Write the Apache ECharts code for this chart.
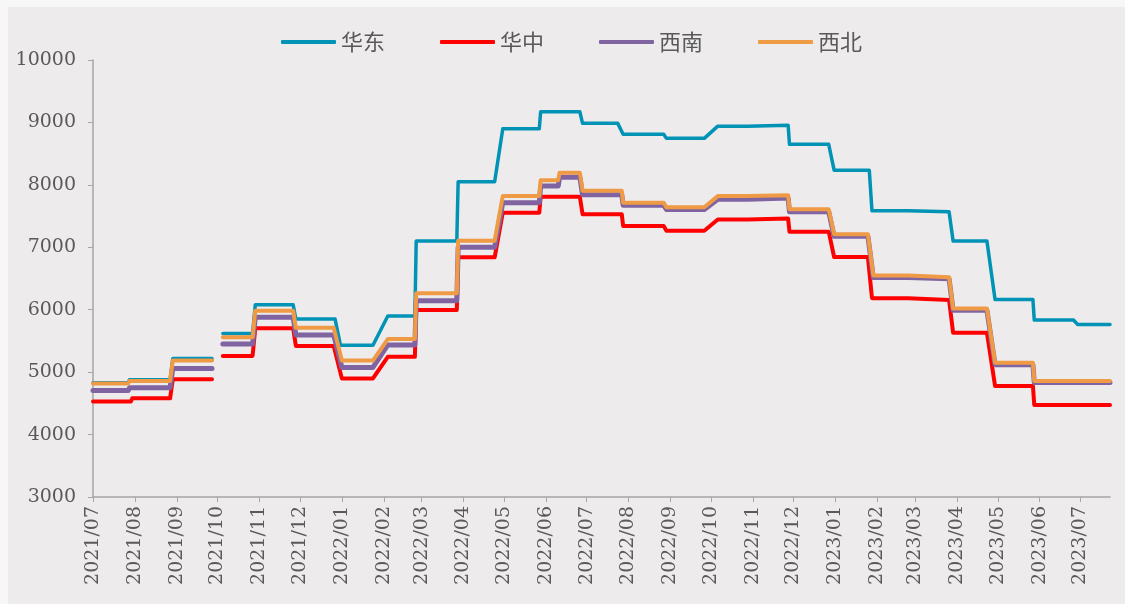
<!DOCTYPE html>
<html>
<head>
<meta charset="utf-8">
<script src="https://cdn.jsdelivr.net/npm/echarts@6/dist/echarts.min.js"></script>
<style>
  html, body { margin: 0; padding: 0; background: #f7f7f7; }
  #main { position: absolute; left: 8px; top: 7px; width: 1117px; height: 597px; background: #edebec; }
</style>
</head>
<body>
<div id="main"></div>
<script>
// 图例名称
var seriesNames = ['华东', '华中', '西南', '西北'];
var seriesColors = ['#0093b6', '#ff0000', '#8064a2', '#ef9a45'];
var seriesWidths = [3.5, 4, 5, 4];

// 价格走势（拐点，'-' 表示断开）
var eastData = [
  ['2021-07-01', 4830], ['2021-07-27', 4830], ['2021-07-28', 4880], ['2021-08-27', 4880],
  ['2021-08-29', 5220], ['2021-09-27', 5220], ['2021-10-01', '-'],
  ['2021-10-05', 5620], ['2021-10-27', 5620], ['2021-10-29', 6080], ['2021-11-26', 6080],
  ['2021-11-28', 5850], ['2021-12-27', 5850], ['2021-12-31', 5430], ['2022-01-24', 5430],
  ['2022-02-04', 5900], ['2022-02-24', 5900], ['2022-02-25', 7100], ['2022-03-27', 7100],
  ['2022-03-28', 8050], ['2022-04-24', 8050], ['2022-04-30', 8900], ['2022-05-27', 8900],
  ['2022-05-28', 9170], ['2022-06-26', 9170], ['2022-06-28', 8985], ['2022-07-24', 8985],
  ['2022-07-28', 8810], ['2022-08-27', 8810], ['2022-08-29', 8745], ['2022-09-26', 8745],
  ['2022-10-06', 8940], ['2022-10-28', 8940], ['2022-10-29', 8955], ['2022-11-27', 8955],
  ['2022-11-28', 8650], ['2022-12-27', 8650], ['2022-12-31', 8235], ['2023-01-26', 8235],
  ['2023-01-28', 7585], ['2023-02-24', 7585], ['2023-02-25', 7570], ['2023-03-26', 7570],
  ['2023-03-29', 7100], ['2023-04-23', 7100], ['2023-04-29', 6165], ['2023-05-27', 6165],
  ['2023-05-28', 5835], ['2023-06-26', 5835], ['2023-06-29', 5765], ['2023-07-23', 5765]
];
var centralData = [
  ['2021-07-01', 4530], ['2021-07-29', 4530], ['2021-07-30', 4580], ['2021-08-27', 4580],
  ['2021-08-29', 4885], ['2021-09-27', 4885], ['2021-10-01', '-'],
  ['2021-10-05', 5260], ['2021-10-27', 5260], ['2021-10-29', 5705], ['2021-11-26', 5705],
  ['2021-11-28', 5420], ['2021-12-26', 5420], ['2022-01-01', 4900], ['2022-01-24', 4900],
  ['2022-02-04', 5245], ['2022-02-24', 5245], ['2022-02-25', 5995], ['2022-03-27', 5995],
  ['2022-03-28', 6840], ['2022-04-24', 6840], ['2022-04-30', 7555], ['2022-05-27', 7555],
  ['2022-05-28', 7810], ['2022-06-26', 7810], ['2022-06-28', 7530], ['2022-07-27', 7530],
  ['2022-07-28', 7340], ['2022-08-27', 7340], ['2022-08-29', 7265], ['2022-09-26', 7265],
  ['2022-10-06', 7445], ['2022-10-28', 7445], ['2022-10-29', 7460], ['2022-11-27', 7460],
  ['2022-11-28', 7250], ['2022-12-27', 7250], ['2022-12-31', 6845], ['2023-01-25', 6845],
  ['2023-01-28', 6185], ['2023-02-24', 6185], ['2023-02-25', 6155], ['2023-03-26', 6155],
  ['2023-03-29', 5630], ['2023-04-23', 5630], ['2023-04-29', 4780], ['2023-05-27', 4780],
  ['2023-05-28', 4475], ['2023-07-23', 4475]
];
var southwestData = [
  ['2021-07-01', 4705], ['2021-07-27', 4705], ['2021-07-28', 4750], ['2021-08-27', 4750],
  ['2021-08-29', 5060], ['2021-09-27', 5060], ['2021-10-01', '-'],
  ['2021-10-05', 5450], ['2021-10-27', 5450], ['2021-10-29', 5880], ['2021-11-26', 5880],
  ['2021-11-28', 5595], ['2021-12-26', 5595], ['2022-01-01', 5075], ['2022-01-24', 5075],
  ['2022-02-04', 5435], ['2022-02-24', 5435], ['2022-02-25', 6145], ['2022-03-27', 6145],
  ['2022-03-28', 7000], ['2022-04-24', 7000], ['2022-04-30', 7715], ['2022-05-27', 7715],
  ['2022-05-28', 7980], ['2022-06-10', 7980], ['2022-06-11', 8120], ['2022-06-26', 8120],
  ['2022-06-28', 7840], ['2022-07-27', 7840], ['2022-07-28', 7675], ['2022-08-27', 7675],
  ['2022-08-29', 7605], ['2022-09-26', 7605], ['2022-10-06', 7770], ['2022-10-28', 7770],
  ['2022-10-29', 7790], ['2022-11-27', 7790], ['2022-11-28', 7570], ['2022-12-27', 7570],
  ['2022-12-31', 7175], ['2023-01-25', 7175], ['2023-01-29', 6515], ['2023-02-24', 6515],
  ['2023-02-25', 6495], ['2023-03-26', 6495], ['2023-03-29', 5990], ['2023-04-23', 5990],
  ['2023-04-29', 5120], ['2023-05-27', 5120], ['2023-05-28', 4835], ['2023-07-23', 4835]
];
var northwestData = [
  ['2021-07-01', 4820], ['2021-07-27', 4820], ['2021-07-28', 4860], ['2021-08-27', 4860],
  ['2021-08-29', 5185], ['2021-09-27', 5185], ['2021-10-01', '-'],
  ['2021-10-05', 5560], ['2021-10-27', 5560], ['2021-10-29', 5985], ['2021-11-26', 5985],
  ['2021-11-28', 5710], ['2021-12-26', 5710], ['2022-01-01', 5185], ['2022-01-24', 5185],
  ['2022-02-04', 5530], ['2022-02-24', 5530], ['2022-02-25', 6265], ['2022-03-27', 6265],
  ['2022-03-28', 7105], ['2022-04-24', 7105], ['2022-04-30', 7820], ['2022-05-27', 7820],
  ['2022-05-28', 8075], ['2022-06-10', 8075], ['2022-06-11', 8195], ['2022-06-26', 8195],
  ['2022-06-28', 7905], ['2022-07-27', 7905], ['2022-07-28', 7715], ['2022-08-27', 7715],
  ['2022-08-29', 7640], ['2022-09-26', 7640], ['2022-10-06', 7820], ['2022-10-28', 7820],
  ['2022-10-29', 7835], ['2022-11-27', 7835], ['2022-11-28', 7610], ['2022-12-27', 7610],
  ['2022-12-31', 7210], ['2023-01-25', 7210], ['2023-01-29', 6550], ['2023-02-24', 6550],
  ['2023-02-25', 6520], ['2023-03-26', 6520], ['2023-03-29', 6020], ['2023-04-23', 6020],
  ['2023-04-29', 5150], ['2023-05-27', 5150], ['2023-05-28', 4860], ['2023-07-23', 4860]
];
var allData = [eastData, centralData, southwestData, northwestData];

// 坐标轴范围
var xMin = '2021-07-01';
var xMax = '2023-07-23';
var yMin = 3000, yMax = 10000, yStep = 1000;

var myChart = echarts.init(document.getElementById('main'));
var textColor = '#595959';
var axisColor = '#a6a6a6';

var series = seriesNames.map(function (name, i) {
  return {
    name: name,
    type: 'line',
    data: allData[i],
    showSymbol: false,
    connectNulls: false,
    lineStyle: { color: seriesColors[i], width: seriesWidths[i], cap: 'round', join: 'round' },
    itemStyle: { color: seriesColors[i] },
    z: 2 + i
  };
});

var option = {
  animation: false,
  backgroundColor: '#edebec',
  legend: {
    data: seriesNames,
    left: 268,
    top: 19,
    icon: 'roundRect',
    itemWidth: 55,
    itemHeight: 4,
    itemGap: 55,
    textStyle: { color: textColor, fontSize: 22, fontFamily: 'Noto Sans CJK SC' }
  },
  grid: { left: 85, right: 15, top: 53, bottom: 107 },
  xAxis: {
    type: 'time',
    min: xMin,
    max: xMax,
    splitNumber: 25,
    minInterval: 28 * 86400000,
    maxInterval: 31 * 86400000,
    axisLine: { show: true, lineStyle: { color: axisColor, width: 1.5 } },
    axisTick: { show: true, length: 5, lineStyle: { color: axisColor } },
    splitLine: { show: false },
    axisLabel: {
      rotate: 90,
      margin: 9,
      color: textColor,
      fontSize: 19,
      fontFamily: 'DejaVu Serif',
      showMaxLabel: false,
      formatter: function (val) {
        return echarts.time.format(val, '{yyyy}/{MM}', false);
      }
    }
  },
  yAxis: {
    type: 'value',
    min: yMin,
    max: yMax,
    interval: yStep,
    axisLine: { show: true, lineStyle: { color: axisColor, width: 1.5 } },
    axisTick: { show: true, length: 5, lineStyle: { color: axisColor } },
    splitLine: { show: false },
    axisLabel: {
      color: textColor,
      fontSize: 19,
      fontFamily: 'DejaVu Serif',
      margin: 17,
      formatter: function (v) { return String(v); }
    }
  },
  series: series
};
myChart.setOption(option);
</script>
</body>
</html>
